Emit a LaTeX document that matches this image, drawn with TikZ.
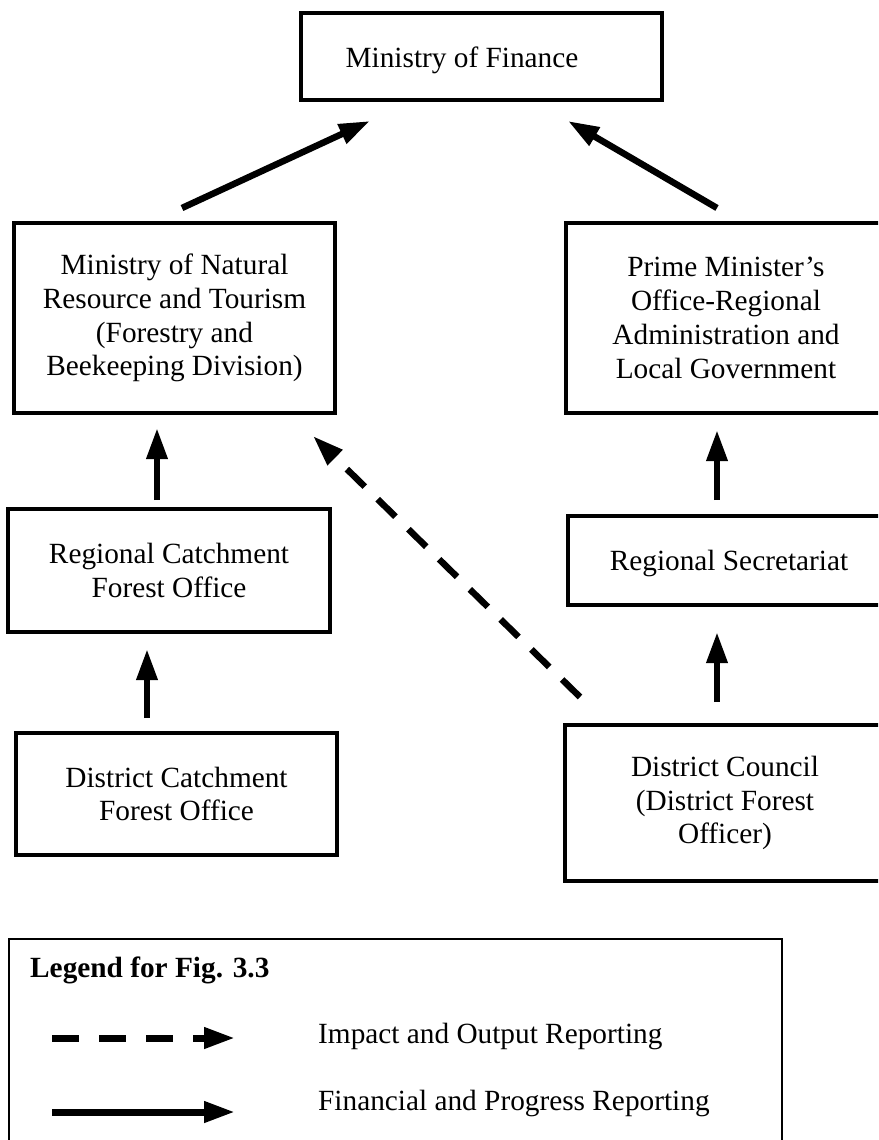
\documentclass[tikz,border=0pt]{standalone}
\usepackage{fontspec}
\setmainfont{Liberation Serif}
\usetikzlibrary{arrows.meta}
\begin{document}
\begin{tikzpicture}[x=1pt,y=-1pt,
  txt/.style={font=\fontsize{29.3}{33.8}\selectfont},
  box/.style={draw, line width=3.5pt, inner sep=0pt, align=center, txt},
  lbl/.style={inner sep=0pt, txt},
  solidarrow/.style={line width=6.5pt, -{Triangle[length=31pt,width=20pt]}},
  dasharrow/.style={solidarrow, dash pattern=on 25pt off 18pt},
]
\useasboundingbox (0,0) rectangle (878,1140);
\fill[white] (0,0) rectangle (878,1140);
\clip (0,0) rectangle (878,1140);

% boxes
\node[box, minimum width=361pt, minimum height=87pt] (mof) at (481.5,56.5) {};
\node[lbl, anchor=base] (moft) at (462,67) {Ministry of Finance};

\node[box, minimum width=321pt, minimum height=190pt] (mnrt) at (174.5,318)
  {Ministry of Natural\\Resource and Tourism\\(Forestry and\\Beekeeping Division)};
\node[box, minimum width=320pt, minimum height=190pt] (pmo) at (726,318)
  {Prime Minister’s\\Office-Regional\\Administration and\\Local Government};
\node[box, minimum width=322pt, minimum height=123pt] (rcfo) at (169,570.5)
  {Regional Catchment\\Forest Office};
\node[box, minimum width=322pt, minimum height=89pt, text depth=0pt] (rs) at (729,560.5)
  {Regional Secretariat};
\node[box, minimum width=321pt, minimum height=122pt] (dcfo) at (176.5,794)
  {District Catchment\\Forest Office};
\node[box, minimum width=320pt, minimum height=156pt] (dc) at (725,803)
  {District Council\\(District Forest\\Officer)};

% connector ends
\coordinate (mnrtOut) at (182,208);
\coordinate (mofInL) at (370,121);
\coordinate (pmoOut) at (717,208);
\coordinate (mofInR) at (568,121);
\coordinate (rcfoOut) at (157,500);
\coordinate (mnrtIn) at (157,428);
\coordinate (dcfoOut) at (147,718);
\coordinate (rcfoIn) at (147,649);
\coordinate (rsOut) at (717,500);
\coordinate (pmoIn) at (717,430);
\coordinate (dcOut) at (717,702);
\coordinate (rsIn) at (717,632);
\coordinate (dcDash) at (580,697);
\coordinate (mnrtDash) at (313,436);

\draw[solidarrow] (mnrtOut) -- (mofInL);
\draw[solidarrow] (pmoOut) -- (mofInR);
\draw[solidarrow] (rcfoOut) -- (mnrtIn);
\draw[solidarrow] (dcfoOut) -- (rcfoIn);
\draw[solidarrow] (rsOut) -- (pmoIn);
\draw[solidarrow] (dcOut) -- (rsIn);
\draw[dasharrow] (dcDash) -- (mnrtDash);

% legend
\node[draw, line width=2pt, minimum width=773pt, minimum height=260pt, inner sep=0pt] (legend) at (395.5,1069) {};
\node[lbl, anchor=base west, font=\fontsize{29.3}{33.8}\selectfont\bfseries] (legtitle) at (30,977) {Legend for Fig. 3.3};
\coordinate (legDashS) at (52,1038);
\coordinate (legDashE) at (235,1038);
\coordinate (legSolidS) at (52,1112);
\coordinate (legSolidE) at (235,1112);
\draw[dasharrow, line width=7pt, dash pattern=on 27pt off 20pt] (legDashS) -- (legDashE);
\draw[solidarrow, line width=7pt] (legSolidS) -- (legSolidE);
\node[lbl, anchor=base west] (legDashT) at (318,1043) {Impact and Output Reporting};
\node[lbl, anchor=base west] (legSolidT) at (318,1110) {Financial and Progress Reporting};
\end{tikzpicture}
\end{document}
